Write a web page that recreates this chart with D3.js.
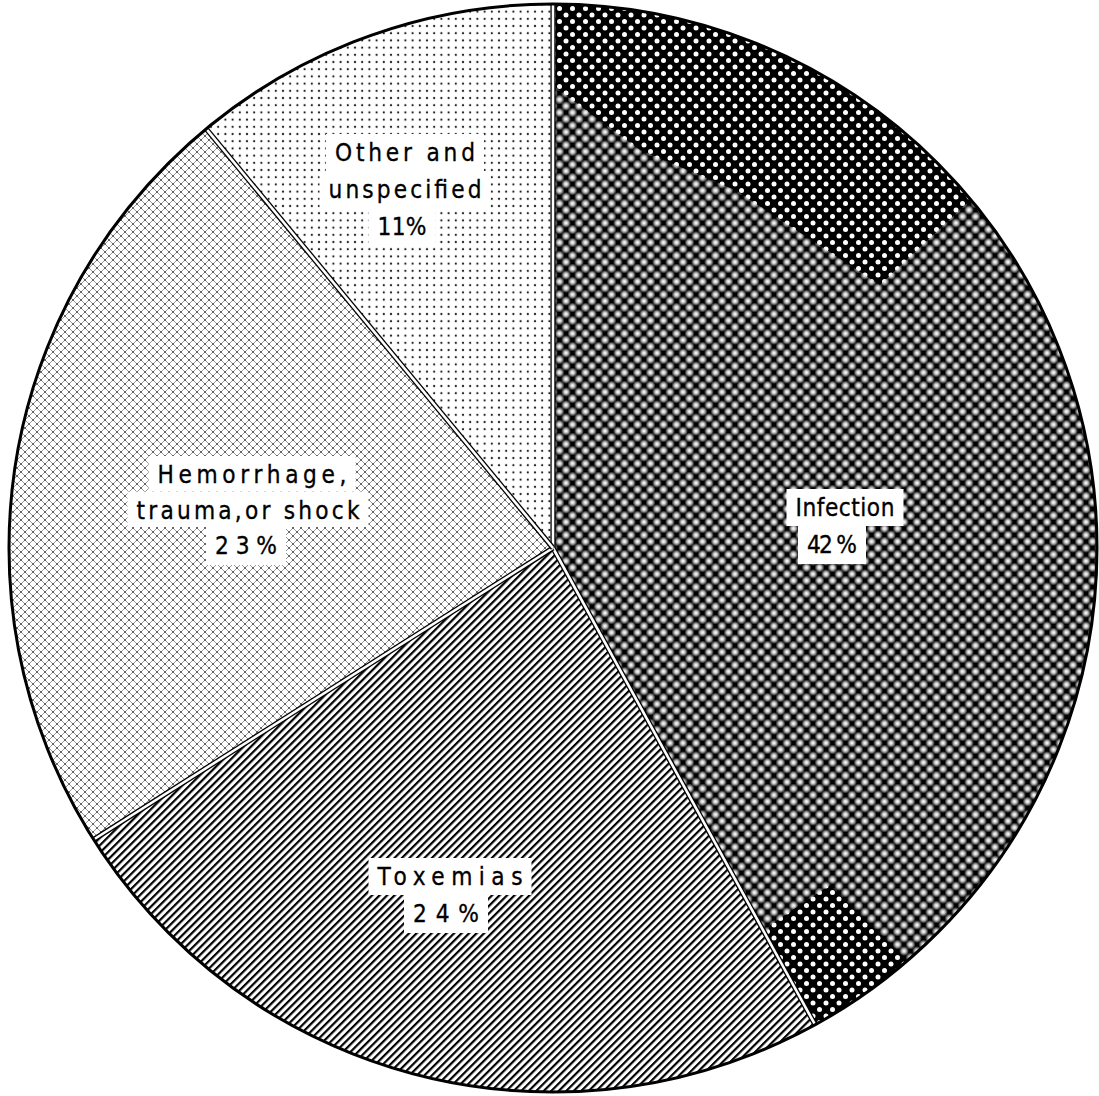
<!DOCTYPE html>
<html>
<head>
<meta charset="utf-8">
<script src="https://cdn.jsdelivr.net/npm/d3@7"></script>
<style>
  html, body { margin: 0; background: #fff; }
  svg { display: block; }
</style>
</head>
<body>
<svg id="chart" width="1099" height="1096"></svg>
<script>
// Causes of maternal death, share of all deaths (%)
const categories = ["Infection", "Toxemias", "Hemorrhage, trauma, or shock", "Other and unspecified"];
const shares = [42, 24, 23, 11];
const nameLines = [["Infection"], ["Toxemias"], ["Hemorrhage,", "trauma,or shock"], ["Other and", "unspecified"]];
const percentText = ["42 %", "24%", "23%", "11%"];

// Geometry and styling
const W = 1099, H = 1096;
const cx = 553, cy = 548, R = 544;
const fills = ["url(#screen)", "url(#hatch)", "url(#cross)", "url(#dots)"];
const fontSize = 25, squeeze = 0.87;

// Label placement: per-line centres, first baseline, line step, text width
const labelLayout = [
  { xs: [845, 832], y0: 516, step: 37, widths: [99, 50] },
  { xs: [450, 446], y0: 885, step: 37, widths: [145, 66] },
  { xs: [252, 248, 246], y0: 483, step: 35.5, widths: [189, 223, 62] },
  { xs: [405, 405, 402], y0: 161, step: 37, widths: [140, 153, 49] }
];

const svg = d3.select("#chart");
const defs = svg.append("defs");

// Coarse halftone screen: white dots on black, 45-degree grid
const scr = defs.append("pattern").attr("id", "screen")
  .attr("patternUnits", "userSpaceOnUse").attr("width", 13).attr("height", 13);
scr.append("rect").attr("width", 13).attr("height", 13).attr("fill", "#000");
[[0, 0], [13, 0], [0, 13], [13, 13], [6.5, 6.5]].forEach(([x, y]) =>
  scr.append("circle").attr("cx", x).attr("cy", y).attr("r", 2.5).attr("fill", "#fff"));

// Diagonal line hatch
const hat = defs.append("pattern").attr("id", "hatch")
  .attr("patternUnits", "userSpaceOnUse").attr("width", 5.3).attr("height", 5.3)
  .attr("patternTransform", "rotate(-45)");
hat.append("rect").attr("width", 5.3).attr("height", 5.3).attr("fill", "#fff");
hat.append("rect").attr("width", 5.3).attr("height", 2.2).attr("fill", "#000");

// Light cross-hatch with dots at the crossings
const cr = defs.append("pattern").attr("id", "cross")
  .attr("patternUnits", "userSpaceOnUse").attr("width", 8).attr("height", 8);
cr.append("rect").attr("width", 8).attr("height", 8).attr("fill", "#fff");
cr.append("path").attr("d", "M0,0L8,8M0,8L8,0").attr("stroke", "#8c8c8c").attr("stroke-width", 0.9);
[[0, 0], [8, 0], [0, 8], [8, 8], [4, 4]].forEach(([x, y]) =>
  cr.append("circle").attr("cx", x).attr("cy", y).attr("r", 1).attr("fill", "#555"));

// Fine dot stipple
const dt = defs.append("pattern").attr("id", "dots")
  .attr("patternUnits", "userSpaceOnUse").attr("width", 7.2).attr("height", 7.2);
dt.append("rect").attr("width", 7.2).attr("height", 7.2).attr("fill", "#fff");
dt.append("circle").attr("cx", 3.6).attr("cy", 3.6).attr("r", 1.1).attr("fill", "#222");

// Softened screen for the worn middle of the dark sector
defs.append("filter").attr("id", "soft")
  .attr("x", "-5%").attr("y", "-5%").attr("width", "110%").attr("height", "110%")
  .append("feGaussianBlur").attr("stdDeviation", 1.3);

const pie = d3.pie().sort(null).value(d => d);
const arcs = pie(shares);
const arc = d3.arc().innerRadius(0).outerRadius(R);

const g = svg.append("g").attr("transform", `translate(${cx},${cy})`);

// Sector clip paths
arcs.forEach((a, i) => {
  defs.append("clipPath").attr("id", "sector" + i).append("path").attr("d", arc(a));
});

// Sectors 1..3 filled plainly
g.selectAll("path.sector").data(arcs.slice(1)).join("path")
  .attr("class", "sector")
  .attr("d", arc)
  .attr("fill", (d, i) => fills[i + 1]);

// Dark sector: soft screen overall, crisp screen in two patches
const dark = g.append("g").attr("clip-path", "url(#sector0)");
dark.append("rect").attr("x", -10).attr("y", -R - 10).attr("width", R + 20).attr("height", 2 * R + 20)
  .attr("fill", "url(#screen)").attr("filter", "url(#soft)");
const crispPatches = [
  [[556, 88], [640, 150], [735, 190], [880, 285], [965, 205], [1110, 90], [1110, -20], [556, -20]],
  [[770, 925], [830, 885], [912, 965], [1010, 1110], [700, 1110]]
];
crispPatches.forEach((pts, k) => {
  const rel = pts.map(([x, y]) => [x - cx, y - cy]);
  defs.append("clipPath").attr("id", "crisp" + k)
    .append("polygon").attr("points", rel.map(p => p.join(",")).join(" "));
  dark.append("g").attr("clip-path", `url(#crisp${k})`)
    .append("path").attr("d", arc(arcs[0])).attr("fill", "url(#screen)");
});

// Double-ruled separators along every sector boundary
arcs.forEach(a => {
  const t = a.startAngle;
  const x2 = Math.sin(t) * R, y2 = -Math.cos(t) * R;
  g.append("line").attr("x1", 0).attr("y1", 0).attr("x2", x2).attr("y2", y2)
    .attr("stroke", "#000").attr("stroke-width", 5.2);
  g.append("line").attr("x1", 0).attr("y1", 0).attr("x2", x2).attr("y2", y2)
    .attr("stroke", "#fff").attr("stroke-width", 2.6);
});

// Outer rim
g.append("circle").attr("r", R).attr("fill", "none").attr("stroke", "#000").attr("stroke-width", 3);

// Labels with white knock-out boxes
const labels = svg.append("g")
  .attr("font-family", "'DejaVu Sans', sans-serif")
  .attr("font-size", fontSize)
  .attr("fill", "#000")
  .attr("stroke", "#000")
  .attr("stroke-width", 0.35);

categories.forEach((c, i) => {
  const lines = nameLines[i].concat([percentText[i]]);
  const L = labelLayout[i];
  const padX = 9;
  lines.forEach((txt, j) => {
    const base = L.y0 + j * L.step;
    const top = base - 27;
    const bottom = j < lines.length - 1 ? L.y0 + (j + 1) * L.step - 27 : base + 11;
    labels.append("rect")
      .attr("x", L.xs[j] - L.widths[j] / 2 - padX)
      .attr("y", top)
      .attr("width", L.widths[j] + 2 * padX)
      .attr("height", bottom - top)
      .attr("fill", "#fff")
      .attr("stroke", "none");
  });
  lines.forEach((txt, j) => {
    // narrow, widely tracked lettering
    labels.append("text")
      .attr("transform", `translate(${L.xs[j]},${L.y0 + j * L.step}) scale(${squeeze},1)`)
      .attr("text-anchor", "middle")
      .attr("textLength", L.widths[j] / squeeze)
      .attr("lengthAdjust", "spacing")
      .text(txt);
  });
});
</script>
</body>
</html>
